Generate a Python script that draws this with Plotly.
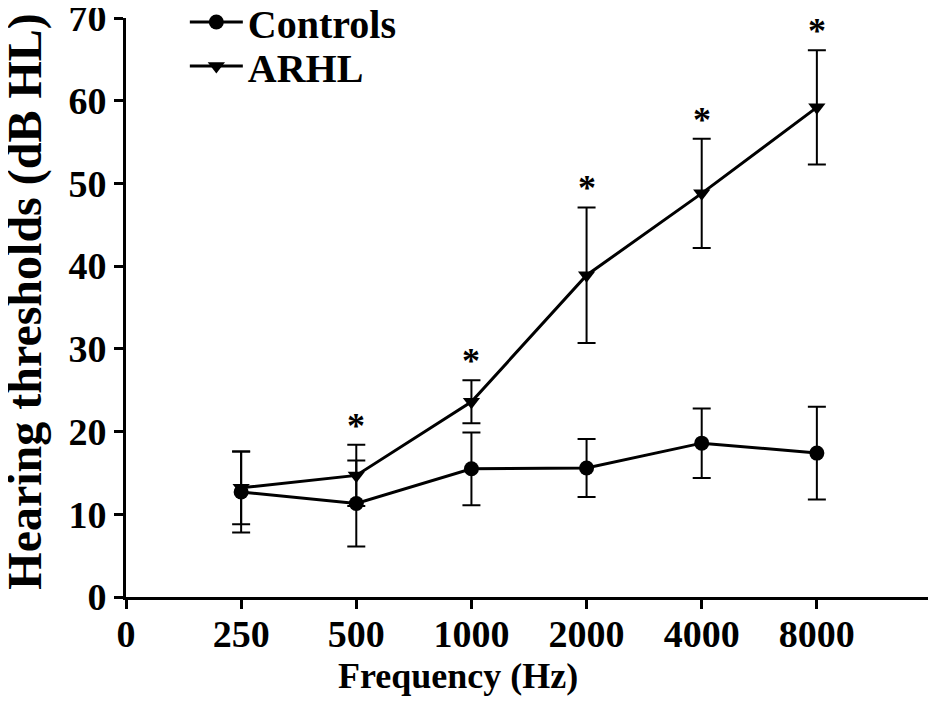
import plotly.graph_objects as go

# ===== data =====
freq_labels = ["250", "500", "1000", "2000", "4000", "8000"]
controls_mean = [12.7, 11.3, 15.5, 15.6, 18.6, 17.4]
controls_sd = [4.9, 5.2, 4.4, 3.5, 4.2, 5.6]
arhl_mean = [13.2, 14.7, 23.6, 38.9, 48.8, 59.2]
arhl_sd = [4.4, 3.7, 2.6, 8.2, 6.6, 6.9]
signif = ["", "*", "*", "*", "*", "*"]

# equally spaced frequency slots, "0" at the origin and one empty slot at the end
x_pos = list(range(1, len(freq_labels) + 1))
tick_vals = list(range(0, len(freq_labels) + 2))
tick_text = ["0"] + freq_labels + [""]

FONT = "Liberation Serif"

fig = go.Figure()
fig.add_trace(go.Scatter(
    x=x_pos, y=controls_mean, name="Controls", legend="legend",
    mode="lines+markers",
    line=dict(color="black", width=3),
    marker=dict(symbol="circle", size=15, color="black"),
    error_y=dict(type="data", array=controls_sd, color="black", thickness=2, width=9),
))
fig.add_trace(go.Scatter(
    x=x_pos, y=arhl_mean, name="ARHL", legend="legend2",
    mode="lines+markers",
    line=dict(color="black", width=3),
    marker=dict(symbol="triangle-down", size=15, color="black"),
    error_y=dict(type="data", array=arhl_sd, color="black", thickness=2, width=9),
))

# significance stars above ARHL error bars
for xp, m, s, star in zip(x_pos, arhl_mean, arhl_sd, signif):
    if star:
        fig.add_annotation(
            x=xp, y=m + s + 2.3, text=star, showarrow=False,
            font=dict(family=FONT, size=36, color="black", weight="bold"),
            yanchor="middle",
        )

# axis titles as annotations (placed tighter than plotly's axis titles allow)
fig.add_annotation(
    x=0.412, y=-0.136, xref="paper", yref="paper", yanchor="middle",
    text="Frequency (Hz)", showarrow=False,
    font=dict(family=FONT, size=36, color="black", weight="bold"),
)
fig.add_annotation(
    x=0, y=0.51, xref="paper", yref="paper", xshift=-101,
    xanchor="center", yanchor="middle", textangle=-90,
    text="Hearing thresholds (dB HL)", showarrow=False,
    font=dict(family=FONT, size=48, color="black", weight="bold"),
)

fig.update_xaxes(
    range=[0, 7], tickvals=tick_vals, ticktext=tick_text, automargin=False,
    showline=True, linecolor="black", linewidth=3,
    ticks="outside", ticklen=9, tickwidth=3, tickcolor="black",
    showgrid=False, zeroline=False, ticklabelstandoff=-8,
    tickfont=dict(family=FONT, size=38, color="black", weight="bold"),
)
fig.update_yaxes(
    range=[0, 70], tickvals=list(range(0, 71, 10)), automargin=False,
    showline=True, linecolor="black", linewidth=3,
    ticks="outside", ticklen=9, tickwidth=3, tickcolor="black",
    showgrid=False, zeroline=False, ticklabelstandoff=0,
    ticklabeloverflow="allow",
    tickfont=dict(family=FONT, size=38, color="black", weight="bold"),
)

legend_style = dict(
    x=0.073, xanchor="left", yanchor="middle",
    font=dict(family=FONT, size=40, color="black", weight="bold"),
    bgcolor="rgba(0,0,0,0)", itemwidth=53,
)

# the page adds an 8px body margin, so the margins are shifted to match
fig.update_layout(
    width=936, height=719,
    margin=dict(l=118, r=12, t=10, b=130, autoexpand=False),
    plot_bgcolor="white", paper_bgcolor="white",
    font=dict(family=FONT, color="black"),
    showlegend=True,
    legend=dict(legend_style, y=0.993),
    legend2=dict(legend_style, y=0.917),
)

fig.write_html("out.html")
